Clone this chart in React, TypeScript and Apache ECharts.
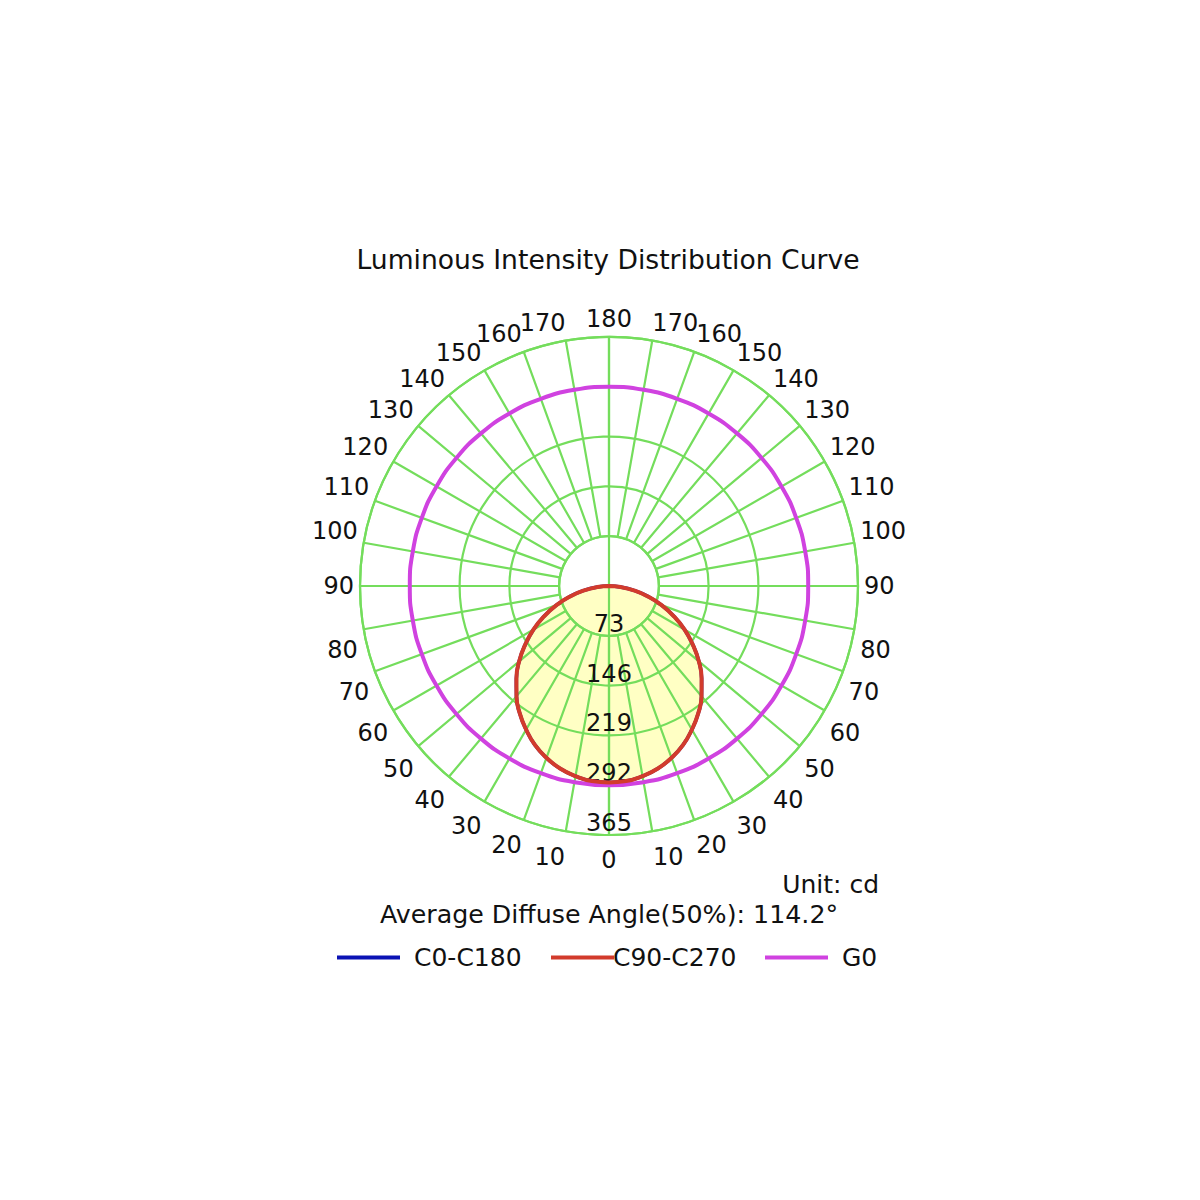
import React, { useEffect, useRef } from 'react';
import * as echarts from 'echarts';

// gamma angles of one half plane, 0 = straight down
const halfAngles = [0, 5, 10, 15, 20, 25, 30, 35, 40, 45, 50, 55, 60, 65, 70, 75, 80, 85, 90];
const c0c180Values = [288, 287, 283, 277, 268, 257, 243, 228, 211, 192, 172, 150, 128, 105, 82, 59, 37, 17, 0];
const c90c270Values = [288, 287, 283, 277, 268, 257, 243, 228, 211, 192, 172, 150, 128, 105, 82, 59, 37, 17, 0];

// G0 is flat all round
const g0Angles = [0, 10, 20, 30, 40, 50, 60, 70, 80, 90, 100, 110, 120, 130, 140, 150, 160, 170, 180,
  190, 200, 210, 220, 230, 240, 250, 260, 270, 280, 290, 300, 310, 320, 330, 340, 350, 360];
const g0Values = [292, 292, 292, 292, 292, 292, 292, 292, 292, 292, 292, 292, 292, 292, 292, 292, 292, 292, 292,
  292, 292, 292, 292, 292, 292, 292, 292, 292, 292, 292, 292, 292, 292, 292, 292, 292, 292];

const radiusMax = 365;
const radiusStep = 73;
const angleStep = 10;

const GREEN = '#74dd5c';
const BLUE = '#0b12b4';
const RED = '#d23b2c';
const MAGENTA = '#d042e0';
const TEXT = '#111111';
const FONT = 'DejaVu Sans';

// right half goes 270..360, left half 0..90
const toPolar = (vals: number[]) => {
  const right = halfAngles.map((a, i) => [vals[i], 360 - a]).reverse();
  const left = halfAngles.slice(1).map((a, i) => [vals[i + 1], a]);
  return [...right, ...left];
};

const labelText = { color: TEXT, fontSize: 24, fontFamily: FONT };

// nudge the angle labels so they sit like the original (left/right, top/bottom)
const angleRich = {
  n: { ...labelText },
  low: { ...labelText, padding: [7, 0, 0, 0] },
  l10: { ...labelText, padding: [8, 30, 0, 0] },
  r10: { ...labelText, padding: [8, 0, 0, 30] },
  l170: { ...labelText, padding: [0, 44, 0, 0] },
  r170: { ...labelText, padding: [0, 0, 0, 44] },
  up: { ...labelText, padding: [0, 0, 22, 0] },
  down: { ...labelText, padding: [39, 0, 0, 0] },
};

const angleLabel = (v: number) => {
  const shown = v <= 180 ? v : 360 - v;
  let key = 'n';
  if (v === 10) key = 'l10';
  else if (v === 350) key = 'r10';
  else if (v === 170) key = 'l170';
  else if (v === 190) key = 'r170';
  else if (v === 100 || v === 260) key = 'up';
  else if (v === 80 || v === 280) key = 'down';
  else if (shown < 80) key = 'low';
  return `{${key}|${shown}}`;
};

const App: React.FC = () => {
  const chartRef = useRef<HTMLDivElement>(null);

  useEffect(() => {
    document.body.style.margin = '0';
    if (!chartRef.current) return;
    const chart = echarts.init(chartRef.current, null, { renderer: 'svg' });

    const c90Data = toPolar(c90c270Values);
    const c0Data = toPolar(c0c180Values);
    const g0Data = g0Angles.map((a, i) => [g0Values[i], a]);

    const gridLine = { show: true, lineStyle: { color: GREEN, width: 2.2 } };

    const legendBase = {
      top: 945,
      padding: 0,
      icon: 'rect',
      itemWidth: 63,
      itemHeight: 4,
      textStyle: { color: TEXT, fontSize: 25, fontFamily: FONT },
    };

    const option = {
      animation: false,
      polar: [
        { center: [609, 586], radius: 249 },
        { center: [609, 586], radius: [50, 249] },
      ],
      angleAxis: [
        {
          polarIndex: 0,
          type: 'value',
          min: 0,
          max: 360,
          interval: 180,
          startAngle: 270,
          z: 2,
          axisLine: { show: false },
          axisTick: { show: false },
          axisLabel: { show: false },
          splitLine: gridLine,
        },
        {
          polarIndex: 1,
          type: 'value',
          min: 0,
          max: 360,
          interval: angleStep,
          startAngle: 270,
          z: 2,
          axisLine: { show: true, lineStyle: { color: GREEN, width: 2.2 } },
          axisTick: { show: false },
          axisLabel: {
            margin: 6,
            ...labelText,
            formatter: angleLabel,
            rich: angleRich,
          },
          splitLine: gridLine,
        },
      ],
      radiusAxis: [
        {
          polarIndex: 0,
          type: 'value',
          min: 0,
          max: radiusMax,
          interval: radiusStep,
          z: 2,
          axisLine: { show: false },
          axisTick: { show: false },
          axisLabel: {
            margin: 0,
            align: 'center',
            verticalAlign: 'bottom',
            ...labelText,
            formatter: (v: number) => (v === 0 ? '' : String(v)),
          },
          splitLine: gridLine,
        },
        {
          polarIndex: 1,
          type: 'value',
          min: 0,
          max: radiusMax,
          axisLine: { show: false },
          axisTick: { show: false },
          axisLabel: { show: false },
          splitLine: { show: false },
        },
      ],
      legend: [
        { ...legendBase, left: 337, data: ['C0-C180'], textStyle: { ...legendBase.textStyle, padding: [0, 0, 0, 9] } },
        { ...legendBase, left: 551, data: ['C90-C270'], textStyle: { ...legendBase.textStyle, padding: [0, 0, 0, -6] } },
        { ...legendBase, left: 765, data: ['G0'], textStyle: { ...legendBase.textStyle, padding: [0, 0, 0, 9] } },
      ],
      graphic: [
        {
          type: 'text',
          x: 608,
          y: 259,
          style: { text: 'Luminous Intensity Distribution Curve', fill: TEXT, fontSize: 26.6, fontFamily: FONT, align: 'center', verticalAlign: 'middle' },
        },
        {
          type: 'text',
          x: 879,
          y: 884,
          style: { text: 'Unit: cd', fill: TEXT, fontSize: 25, fontFamily: FONT, align: 'right', verticalAlign: 'middle' },
        },
        {
          type: 'text',
          x: 609,
          y: 914,
          style: { text: 'Average Diffuse Angle(50%): 114.2°', fill: TEXT, fontSize: 25.3, fontFamily: FONT, align: 'center', verticalAlign: 'middle' },
        },
      ],
      series: [
        {
          name: 'fill',
          type: 'line',
          coordinateSystem: 'polar',
          polarIndex: 0,
          data: c90Data,
          smooth: true,
          symbol: 'none',
          silent: true,
          z: 1,
          lineStyle: { width: 0 },
          areaStyle: { color: '#ffffc4', opacity: 1 },
        },
        {
          name: 'C0-C180',
          type: 'line',
          coordinateSystem: 'polar',
          polarIndex: 0,
          data: c0Data,
          smooth: true,
          symbol: 'none',
          z: 3,
          itemStyle: { color: BLUE },
          lineStyle: { color: BLUE, width: 3.5 },
        },
        {
          name: 'C90-C270',
          type: 'line',
          coordinateSystem: 'polar',
          polarIndex: 0,
          data: c90Data,
          smooth: true,
          symbol: 'none',
          z: 4,
          itemStyle: { color: RED },
          lineStyle: { color: RED, width: 4 },
        },
        {
          name: 'G0',
          type: 'line',
          coordinateSystem: 'polar',
          polarIndex: 0,
          data: g0Data,
          smooth: true,
          symbol: 'none',
          z: 3,
          itemStyle: { color: MAGENTA },
          lineStyle: { color: MAGENTA, width: 4 },
        },
      ],
    };

    chart.setOption(option);

    return () => {
      chart.dispose();
    };
  }, []);

  return <div ref={chartRef} style={{ width: '1200px', height: '1200px', background: '#fff' }} />;
};

export default App;
